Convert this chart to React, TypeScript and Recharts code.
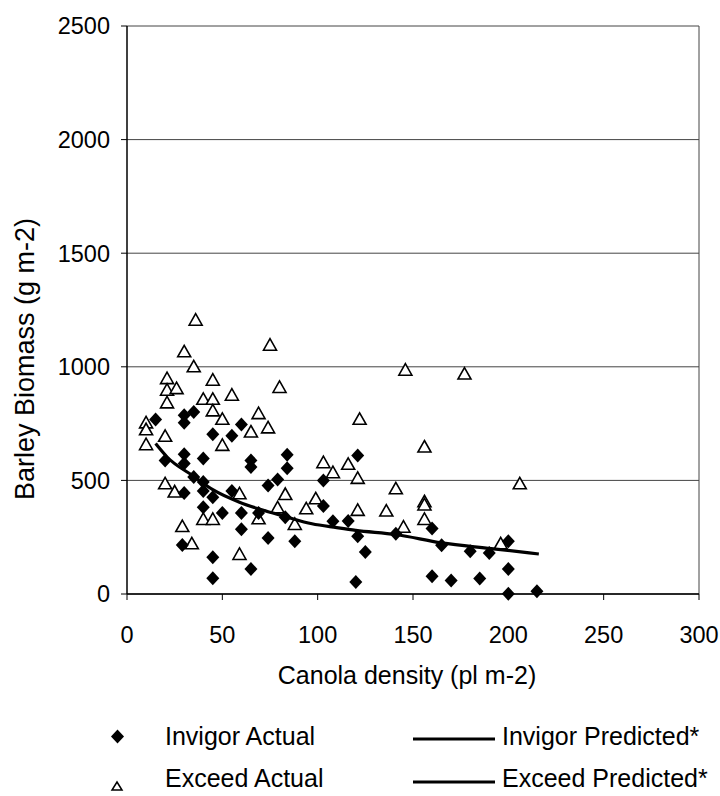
import { ScatterChart, Scatter, XAxis, YAxis, CartesianGrid, ReferenceLine } from 'recharts';

const FONT = '"Liberation Sans", Arial, Helvetica, sans-serif';

const X_TICKS = [0, 50, 100, 150, 200, 250, 300];
const Y_TICKS = [0, 500, 1000, 1500, 2000, 2500];

// [canola density, barley biomass]
const INVIGOR_ACTUAL: [number, number][] = [
  [15, 768], [30, 787], [35, 801], [30, 754], [60, 746], [45, 703], [55, 696],
  [30, 615], [20, 588], [40, 596], [30, 574], [65, 588], [65, 559], [84, 613],
  [84, 554], [35, 515], [40, 493], [40, 453], [45, 426], [30, 444], [79, 504],
  [74, 478], [55, 453], [40, 382], [50, 357], [60, 357], [69, 357], [60, 285],
  [83, 338], [103, 387], [103, 500], [108, 320], [74, 247], [88, 232], [29, 216],
  [45, 162], [65, 110], [45, 69], [121, 610], [116, 321], [121, 254], [125, 185],
  [120, 53], [141, 265], [160, 288], [165, 215], [160, 78], [170, 59], [180, 188],
  [190, 181], [185, 68], [200, 232], [200, 110], [200, 1], [215, 12],
];

const EXCEED_ACTUAL: [number, number][] = [
  [36, 1205], [75, 1095], [30, 1066], [35, 1000], [21, 948], [21, 897], [26, 904],
  [45, 941], [80, 909], [21, 841], [40, 857], [45, 857], [55, 875], [45, 806],
  [50, 769], [69, 794], [65, 713], [74, 731], [10, 753], [10, 723], [20, 694],
  [10, 657], [50, 654], [20, 485], [25, 449], [29, 297], [34, 221], [40, 328],
  [45, 328], [59, 441], [59, 174], [69, 331], [83, 438], [79, 379], [88, 306],
  [94, 375], [99, 419], [103, 578], [108, 534], [146, 985], [177, 968], [122, 769],
  [156, 647], [116, 571], [121, 509], [206, 485], [141, 463], [156, 406], [156, 392],
  [156, 328], [121, 368], [136, 365], [145, 294], [196, 221],
];

const PREDICTED_X = [15, 21, 35, 45, 59, 69, 83, 97, 110, 120, 141, 165, 191, 216];
const PREDICTED_Y = [662, 603, 518, 459, 404, 375, 341, 309, 292, 280, 262, 225, 200, 176];

const toPoints = (rows: [number, number][]) => rows.map(([x, y]) => ({ x, y }));
const invigorData = toPoints(INVIGOR_ACTUAL);
const exceedData = toPoints(EXCEED_ACTUAL);
const predictedData = PREDICTED_X.map((x, i) => ({ x, y: PREDICTED_Y[i] }));

const Diamond = (p: any) => {
  const { cx, cy } = p;
  if (cx == null || cy == null) return <g />;
  return (
    <polygon
      points={`${cx},${cy - 7} ${cx + 6.5},${cy} ${cx},${cy + 7} ${cx - 6.5},${cy}`}
      fill="#000"
    />
  );
};

const Triangle = (p: any) => {
  const { cx, cy } = p;
  if (cx == null || cy == null) return <g />;
  return (
    <polygon
      points={`${cx},${cy - 6.5} ${cx + 6.5},${cy + 5} ${cx - 6.5},${cy + 5}`}
      fill="#fff"
      stroke="#000"
      strokeWidth={1.6}
    />
  );
};

const tickStyle = { fill: '#000', fontSize: 23.5, fontFamily: FONT };

function XTitle(props: any) {
  const vb = props.viewBox || { x: 127, y: 594, width: 572 };
  return (
    <text x={vb.x + vb.width / 2 - 6} y={vb.y + 90} textAnchor="middle" fontSize={25} fontFamily={FONT} fill="#000">
      Canola density (pl m-2)
    </text>
  );
}

function YTitle(props: any) {
  const vb = props.viewBox || { x: 67, y: 26, height: 568 };
  const x = 34;
  const y = vb.y + vb.height / 2 + 49;
  return (
    <text x={x} y={y} transform={`rotate(-90 ${x} ${y})`} textAnchor="middle" fontSize={27} fontFamily={FONT} fill="#000">
      Barley Biomass (g m-2)
    </text>
  );
}

function LegendBlock() {
  const txt = { fontSize: 25, fontFamily: FONT, fill: '#000' };
  return (
    <svg width={720} height={796} style={{ position: 'absolute', left: 0, top: 0, pointerEvents: 'none' }}>
      <Diamond cx={117.5} cy={736.5} />
      <text x={165} y={745} {...txt}>Invigor Actual</text>
      <polygon points="117,782 122,790 112,790" fill="#fff" stroke="#000" strokeWidth={1.5} />
      <text x={165} y={787} {...txt}>Exceed Actual</text>
      <line x1={413} x2={495} y1={739} y2={739} stroke="#000" strokeWidth={3} />
      <text x={502} y={745} {...txt}>Invigor Predicted*</text>
      <line x1={413} x2={495} y1={782} y2={782} stroke="#000" strokeWidth={3} />
      <text x={502} y={787} {...txt}>Exceed Predicted*</text>
    </svg>
  );
}

export default function App() {
  return (
    <div style={{ position: 'absolute', left: 0, top: 0, width: 720, height: 796, background: '#fff', fontFamily: FONT }}>
      <ScatterChart width={720} height={700} margin={{ top: 26, right: 21, bottom: 16, left: 67 }}>
        <CartesianGrid vertical={false} stroke="#444" strokeWidth={1} />
        <XAxis
          type="number"
          dataKey="x"
          domain={[0, 300]}
          ticks={X_TICKS}
          interval={0}
          height={90}
          tickSize={6}
          tickMargin={26}
          tick={tickStyle}
          axisLine={{ stroke: '#000', strokeWidth: 1.5 }}
          tickLine={{ stroke: '#000' }}
          label={<XTitle />}
        />
        <YAxis
          type="number"
          dataKey="y"
          domain={[0, 2500]}
          ticks={Y_TICKS}
          interval={0}
          width={60}
          tickSize={6}
          tickMargin={11}
          tick={tickStyle}
          axisLine={{ stroke: '#000', strokeWidth: 1.5 }}
          tickLine={{ stroke: '#000' }}
          label={<YTitle />}
        />
        <ReferenceLine x={300} stroke="#444" strokeWidth={1} />
        <Scatter name="Exceed Actual" data={exceedData} shape={Triangle} isAnimationActive={false} />
        <Scatter name="Invigor Actual" data={invigorData} shape={Diamond} isAnimationActive={false} />
        <Scatter
          name="Invigor Predicted*"
          data={predictedData}
          line={{ stroke: '#000', strokeWidth: 3.2 }}
          lineJointType="monotoneX"
          shape={() => <g />}
          isAnimationActive={false}
        />
      </ScatterChart>
      <LegendBlock />
    </div>
  );
}
